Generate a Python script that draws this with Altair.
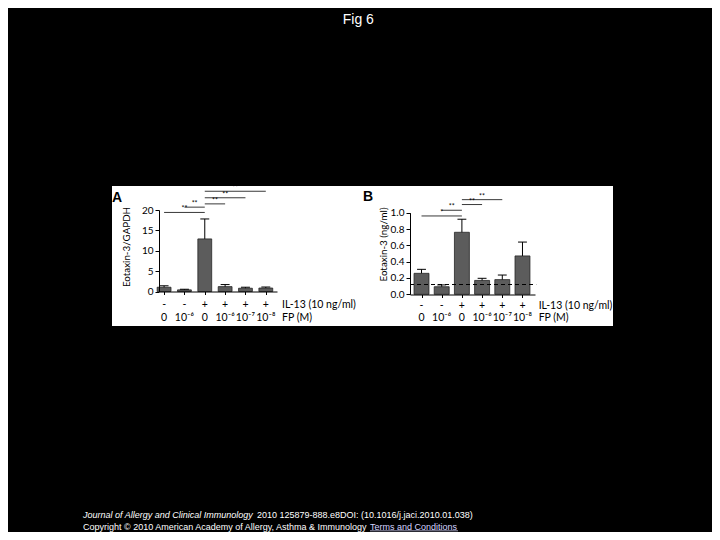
import altair as alt
import pandas as pd

# ---------------- data ----------------
groups = [1, 2, 3, 4, 5, 6]
il13_row = ["-", "-", "+", "+", "+", "+"]
fp_row = ["0", "10⁻⁶", "0", "10⁻⁶", "10⁻⁷", "10⁻⁸"]
row_titles = ["IL-13 (10 ng/ml)", "FP (M)"]

# Panel A: Eotaxin-3/GAPDH
a_mean = [1.05, 0.4, 12.9, 1.2, 0.8, 0.85]
a_top = [1.4, 0.55, 17.8, 1.7, 1.05, 1.1]
a_sig_from = [1, 2, 3, 3, 3]
a_sig_to = [3, 3, 4, 5, 6]
a_sig_level = [19.4, 20.7, 21.5, 23.0, 24.6]
a_sig_text = ["**", "**", "**", "**", "**"]
a_ticks = [0, 5, 10, 15, 20]

# Panel B: Eotaxin-3 (ng/ml)
b_mean = [0.257, 0.093, 0.76, 0.17, 0.18, 0.47]
b_top = [0.306, 0.115, 0.92, 0.196, 0.236, 0.64]
b_sig_from = [1, 2, 3, 3]
b_sig_to = [3, 3, 4, 5]
b_sig_level = [0.96, 1.03, 1.10, 1.16]
b_sig_text = ["*", "**", "**", "**"]
b_ticks = [0.0, 0.2, 0.4, 0.6, 0.8, 1.0]
b_detect_limit = 0.12

fig_title = "Fig 6"
footer_journal = "Journal of Allergy and Clinical Immunology"
footer_ref = "2010 125879-888.e8DOI: (10.1016/j.jaci.2010.01.038)"
footer_copy = "Copyright © 2010 American Academy of Allergy, Asthma & Immunology"
footer_link = "Terms and Conditions"

FONT = "Lato, DejaVu Sans, sans-serif"
SANS = "Liberation Sans, Arial, sans-serif"
BAR_FILL = "#5c5c5c"


def panel(mean, top, sfrom, sto, slevel, stext, xdom, xrange, ydom, yrange,
          yticks, yfmt, ytitle, title_x, title_y, xaxis_offset, row_y,
          half, dash=None):
    xs = alt.Scale(domain=xdom, range=xrange, nice=False, zero=False)
    ys = alt.Scale(domain=ydom, range=yrange, nice=False, zero=False)
    xaxis = alt.Axis(orient="bottom", offset=xaxis_offset, values=groups,
                     labels=False, title=None, grid=False, tickSize=3,
                     domainColor="black", tickColor="black", domainWidth=1,
                     zindex=2)
    yaxis = alt.Axis(orient="left", offset=-xrange[0], values=yticks,
                     format=yfmt, title=ytitle, titleX=title_x, titleY=title_y,
                     titleAngle=270, titleBaseline="middle", titleAlign="center",
                     grid=False, tickSize=4, labelPadding=2,
                     labelFont=FONT, labelFontSize=10, labelColor="black",
                     titleFont=FONT, titleFontSize=9.8, titleFontWeight="normal",
                     titleColor="black", domainColor="black", tickColor="black",
                     zindex=2)

    def X(f):
        return alt.X(f, type="quantitative", scale=xs, axis=xaxis)

    def Y(f):
        return alt.Y(f, type="quantitative", scale=ys, axis=yaxis)

    df = pd.DataFrame({"idx": groups, "mean": mean, "top": top,
                       "il13": il13_row, "fp": fp_row})
    df["x0"] = df["idx"] - half
    df["x1"] = df["idx"] + half
    df["cl"] = df["idx"] - 0.22
    df["cr"] = df["idx"] + 0.22
    df["zero"] = 0.0

    sig = pd.DataFrame({"a": sfrom, "b": sto, "lev": slevel, "t": stext})
    sig["mid"] = (sig["a"] + sig["b"]) / 2

    base = alt.Chart(df)
    bars = base.mark_rect(fill=BAR_FILL, stroke="#262626", strokeWidth=0.8).encode(
        x=X("x0"), x2="x1", y=Y("mean"), y2="zero")
    err = base.mark_rule(color="black", strokeWidth=1).encode(
        x=X("idx"), y=Y("mean"), y2="top")
    cap = base.mark_rule(color="black", strokeWidth=1).encode(
        x=X("cl"), x2="cr", y=Y("top"))
    sline = alt.Chart(sig).mark_rule(color="#222", strokeWidth=0.9).encode(
        x=X("a"), x2="b", y=Y("lev"))
    stxt = alt.Chart(sig).mark_text(font=FONT, fontSize=7, baseline="bottom",
                                    dy=0, color="black").encode(
        x=X("mid"), y=Y("lev"), text="t")
    r1 = base.mark_text(font=FONT, fontSize=10.5, color="black",
                        baseline="middle").encode(
        x=X("idx"), y=alt.value(row_y[0]), text="il13")
    r2 = base.mark_text(font=FONT, fontSize=10.5, color="black",
                        baseline="middle").encode(
        x=X("idx"), y=alt.value(row_y[1]), text="fp")
    lab = pd.DataFrame({"x": [6.8], "t1": [row_titles[0]], "t2": [row_titles[1]]})
    l1 = alt.Chart(lab).mark_text(font=FONT, fontSize=10.5, align="left",
                                  baseline="middle", color="black").encode(
        x=X("x"), y=alt.value(row_y[0]), text="t1")
    l2 = alt.Chart(lab).mark_text(font=FONT, fontSize=10.5, align="left",
                                  baseline="middle", color="black").encode(
        x=X("x"), y=alt.value(row_y[1]), text="t2")
    layers = [bars, err, cap]
    if dash is not None:
        ddf = pd.DataFrame({"a": [xdom[0]], "b": [6.68], "lev": [dash]})
        layers.append(alt.Chart(ddf).mark_rule(color="black", strokeWidth=1,
                                               strokeDash=[4, 3]).encode(
            x=X("a"), x2="b", y=Y("lev")))
    layers += [sline, stxt, r1, r2, l1, l2]
    return alt.layer(*layers)


panelA = panel(a_mean, a_top, a_sig_from, a_sig_to, a_sig_level, a_sig_text,
               [0.75, 6.55], [151, 269], [0, 20], [283.5, 202],
               a_ticks, "d", "Eotaxin-3/GAPDH", -33, 238.5, -240.5,
               [296.5, 309.5], 0.34)
panelB = panel(b_mean, b_top, b_sig_from, b_sig_to, b_sig_level, b_sig_text,
               [0.43, 6.62], [402, 527], [0, 1], [286.3, 204.7],
               b_ticks, ".1f", "Eotaxin-3 (ng/ml)", -27, 236, -237.5,
               [297.5, 310], 0.37, dash=b_detect_limit)

one = pd.DataFrame({"k": [0]})
bg = alt.Chart(one).mark_rect(color="white").encode(
    x=alt.value(104), x2=alt.value(605), y=alt.value(178), y2=alt.value(318))

txt = pd.DataFrame({"title": [fig_title], "j": [footer_journal], "r": [footer_ref],
                    "c": [footer_copy], "l": [footer_link],
                    "A": ["A"], "B": ["B"]})
tbase = alt.Chart(txt)
title = tbase.mark_text(font=SANS, fontSize=14, color="white", align="center",
                        baseline="alphabetic").encode(
    text="title", x=alt.value(350.3), y=alt.value(16.3))
letA = tbase.mark_text(font=SANS, fontSize=14, fontWeight="bold", color="black",
                       align="left", baseline="alphabetic").encode(
    text="A", x=alt.value(104), y=alt.value(193.7))
letB = tbase.mark_text(font=SANS, fontSize=14, fontWeight="bold", color="black",
                       align="left", baseline="alphabetic").encode(
    text="B", x=alt.value(355), y=alt.value(193))
f1 = tbase.mark_text(font=SANS, fontSize=9, fontStyle="italic", color="white",
                     align="left", baseline="alphabetic").encode(
    text="j", x=alt.value(75), y=alt.value(510))
f2 = tbase.mark_text(font=SANS, fontSize=9, color="white",
                     align="left", baseline="alphabetic").encode(
    text="r", x=alt.value(249), y=alt.value(510))
f3 = tbase.mark_text(font=SANS, fontSize=9, color="white",
                     align="left", baseline="alphabetic").encode(
    text="c", x=alt.value(75), y=alt.value(521.5))
f4 = tbase.mark_text(font=SANS, fontSize=9, color="#d4d4ff",
                     align="left", baseline="alphabetic").encode(
    text="l", x=alt.value(362), y=alt.value(521.5))
ul = alt.Chart(one).mark_rule(color="#d4d4ff", strokeWidth=0.7).encode(
    x=alt.value(362), x2=alt.value(450), y=alt.value(522.8))

chart = alt.layer(bg, panelA, panelB, letA, letB, title, f1, f2, f3, f4, ul).resolve_scale(
    x="independent", y="independent"
).properties(
    width=704, height=524, padding=0, background="black",
    autosize=alt.AutoSizeParams(type="none")
).configure_view(strokeWidth=0)

chart.save("out.html", embed_options={"renderer": "svg", "actions": False})
